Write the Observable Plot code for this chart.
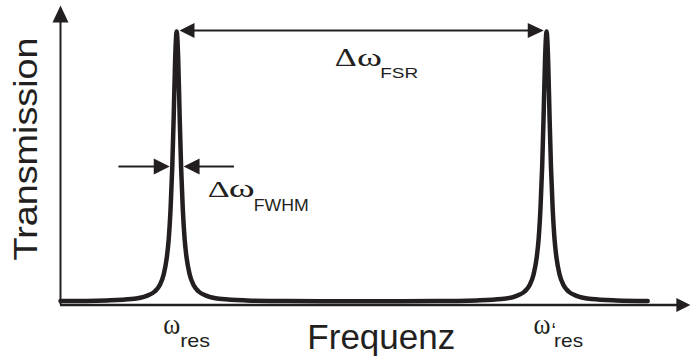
<!DOCTYPE html>
<html>
<head>
<meta charset="utf-8">
<script src="https://cdn.jsdelivr.net/npm/d3@7"></script>
<script src="https://cdn.jsdelivr.net/npm/@observablehq/plot@0.6"></script>
<style>
  html, body { margin: 0; padding: 0; background: #fff; }
  svg { display: block; }
</style>
</head>
<body>
<script>
// Ring-resonator transmission: two Lorentzian resonances one free spectral range apart.
const resonances = [18.5, 77.4];          // ω_res and ω'_res (frequency units)
const fwhm = 1.4;                         // full width at half maximum

// Line shape of one resonance: offset from the centre and transmission
const profileOffset = [0, 0.24, 0.48, 0.70, 0.96, 1.27, 1.59, 2.07, 2.71, 3.50, 4.78, 7.17, 11.15, 17.5, 29.5];
const profileT      = [1.00, 0.90, 0.68, 0.50, 0.35, 0.23, 0.16, 0.10, 0.06, 0.037, 0.021, 0.009, 0.004, 0.0015, 0.0005];

// Ends of the trace and the point halfway between the two resonances
const edgeX = [0, 47.95, 93.5];
const edgeT = [0.002, 0.001, 0.002];

const axisLabels = ["Frequenz", "Transmission"];

const ink = "#231f20";
const sans = "Liberation Sans, Arial, sans-serif";
const serif = "Liberation Serif, Times New Roman, serif";

// Assemble the trace from the line shape placed at each resonance
const windows = [[edgeX[0], edgeX[1]], [edgeX[1], edgeX[2]]];
const curve = edgeX.map((x, i) => ({x, t: edgeT[i]}));
resonances.forEach((r, k) => {
  const [a, b] = windows[k];
  profileOffset.forEach((o, i) => {
    if (r - o > a) curve.push({x: r - o, t: profileT[i]});
    if (o > 0 && r + o < b) curve.push({x: r + o, t: profileT[i]});
  });
});
curve.sort((p, q) => p.x - q.x);

// Filled triangular arrowheads with their tip at the anchor point
function head(dir, len, wid) {
  const h = wid / 2;
  return {
    draw(ctx) {
      ctx.moveTo(0, 0);
      if (dir === "right") { ctx.lineTo(-len, -h); ctx.lineTo(-len, h); }
      if (dir === "left")  { ctx.lineTo(len, -h);  ctx.lineTo(len, h); }
      if (dir === "up")    { ctx.lineTo(-h, len);  ctx.lineTo(h, len); }
      ctx.closePath();
    }
  };
}

// One piece of a label: text at a data anchor, offset in pixels
function piece(name, str, x, y, dx, dy, size, family) {
  return Plot.text([str], {x, y, text: d => d, dx, dy, textAnchor: "start", lineAnchor: "bottom",
    fontSize: size, fontFamily: family, fill: ink, ariaLabel: () => name});
}

// Set widths of the symbol glyphs (wider set than the installed serif)
const glyphWidths = {
  "res1-omega": 17, "res1-sub": 30,
  "res2-omega": 17, "res2-sub": 29,
  "fsr-delta": 22, "fsr-omega": 25, "fsr-sub": 38,
  "fwhm-delta": 22, "fwhm-omega": 26, "fwhm-sub": 55,
  "title-y": 223
};

const axisY = -0.013;
const [r1, r2] = resonances;
const fsrY = 1.004;
const fsrGap = 0.45;
const halfY = 0.5;
const fwhmTip = fwhm / 2 + 0.4;
const fwhmTail = 8.1;
const mid = (r1 + r2) / 2;
const resY = -0.12;
const fsrLabelY = 0.874;

const chart = Plot.plot({
  width: 691,
  height: 360,
  marginLeft: 60,
  marginRight: 3,
  marginTop: 31,
  marginBottom: 59,
  x: {domain: [0, 100], axis: null},
  y: {domain: [0, 1], axis: null},
  style: {background: "#fff", color: ink},
  marks: [
    // axes
    Plot.ruleX([0], {y1: axisY, y2: 1.05, stroke: ink, strokeWidth: 2}),
    Plot.ruleY([axisY], {x1: 0, x2: 98.5, stroke: ink, strokeWidth: 2.4}),
    Plot.dot([{x: 0, y: 1.096}], {x: "x", y: "y", r: 5, symbol: head("up", 17, 16), fill: ink}),
    Plot.dot([{x: 100.3, y: axisY}], {x: "x", y: "y", r: 5, symbol: head("right", 14, 14), fill: ink}),

    // transmission trace
    Plot.line(curve, {x: "x", y: "t", curve: "monotone-x", stroke: ink, strokeWidth: 4.5}),

    // free spectral range arrow
    Plot.ruleY([fsrY], {x1: r1 + fsrGap + 1, x2: r2 - fsrGap - 1, stroke: ink, strokeWidth: 2}),
    Plot.dot([{x: r1 + fsrGap, y: fsrY}], {x: "x", y: "y", r: 5, symbol: head("left", 15, 15), fill: ink}),
    Plot.dot([{x: r2 - fsrGap, y: fsrY}], {x: "x", y: "y", r: 5, symbol: head("right", 16, 15), fill: ink}),

    // linewidth arrows at half maximum
    Plot.ruleY([halfY], {x1: r1 - fwhmTip - fwhmTail, x2: r1 - fwhmTip - 1, stroke: ink, strokeWidth: 2}),
    Plot.ruleY([halfY], {x1: r1 + fwhmTip + 1, x2: r1 + fwhmTip + fwhmTail, stroke: ink, strokeWidth: 2}),
    Plot.dot([{x: r1 - fwhmTip, y: halfY}], {x: "x", y: "y", r: 5, symbol: head("right", 16, 16), fill: ink}),
    Plot.dot([{x: r1 + fwhmTip, y: halfY}], {x: "x", y: "y", r: 5, symbol: head("left", 16, 16), fill: ink}),

    // axis titles
    Plot.text([axisLabels[0]], {x: 51.08, y: -0.135, text: d => d, textAnchor: "middle", lineAnchor: "middle",
      fontSize: 35, fontFamily: sans, fill: ink, ariaLabel: () => "title-x"}),
    Plot.text([axisLabels[1]], {x: -5.5, y: 0.565, text: d => d, rotate: -90, textAnchor: "middle", lineAnchor: "middle",
      fontSize: 33, fontFamily: sans, fill: ink, ariaLabel: () => "title-y"}),

    // resonance labels
    piece("res1-omega", "ω", r1, resY, -13.5, 0, 29, serif),
    piece("res1-sub", "res", r1, resY, 3.5, 13.4, 19, sans),
    piece("res2-omega", "ω", r2, resY, -13, 0, 29, serif),
    piece("res2-prime", "‘", r2, resY, 5, 3, 20, sans),
    piece("res2-sub", "res", r2, resY, 7.5, 13.4, 19, sans),

    // Δω_FSR
    piece("fsr-delta", "Δ", mid, fsrLabelY, -27, 0, 26, serif),
    piece("fsr-omega", "ω", mid, fsrLabelY, -4.7, 0, 26, serif),
    piece("fsr-sub", "FSR", mid, fsrLabelY, 18.6, 12.3, 15, sans),

    // Δω_FWHM
    piece("fwhm-delta", "Δ", r1, halfY, 31, 30, 24, serif),
    piece("fwhm-omega", "ω", r1, halfY, 52, 30, 26, serif),
    piece("fwhm-sub", "FWHM", r1, halfY, 77, 44, 17, sans)
  ]
});

for (const [name, len] of Object.entries(glyphWidths)) {
  d3.select(chart).selectAll(`text[aria-label="${name}"]`)
    .attr("textLength", len)
    .attr("lengthAdjust", "spacingAndGlyphs");
}

document.body.appendChild(chart);
</script>
</body>
</html>
